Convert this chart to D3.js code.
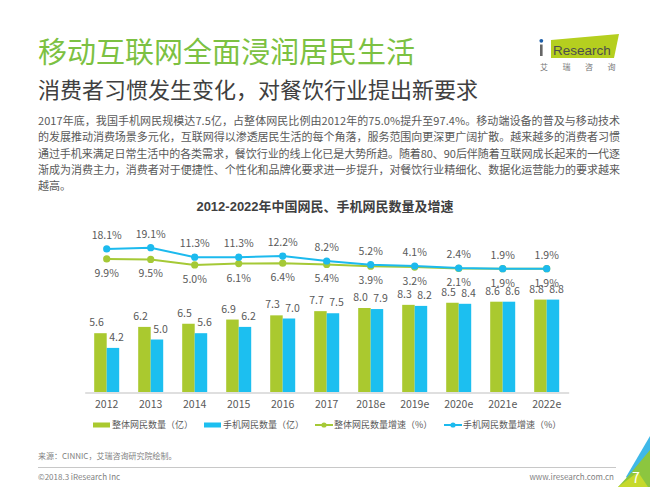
<!DOCTYPE html>
<html lang="zh-CN">

<head>
    <meta charset="UTF-8">
    <title> 2012-2022年中国网民、手机网民数量及增速 </title>
    <script src="https://cdn.jsdelivr.net/npm/d3@7"></script>
</head>

<style>

html, body {
  margin: 0;
  padding: 0;
  background-color: white;
}

svg {
  display: block;
  font-family: 'Noto Sans CJK SC', 'Noto Sans', sans-serif;
}

.title {
  font-size: 29px;
  fill: #7cc142;
}

.subtitle {
  font-size: 22px;
  fill: #404040;
}

.body-text {
  font-size: 11px;
  fill: #595959;
}

.chart-title {
  font-family: 'Liberation Sans', 'Noto Sans CJK SC', sans-serif;
  font-size: 13px;
  font-weight: 700;
  fill: #404040;
  text-anchor: middle;
}

.x-axis path {
  stroke: #bfbfbf;
  stroke-width: 1px;
}

.x-axis text {
  font-family: 'Noto Sans CJK SC', sans-serif;
  font-size: 10.5px;
  fill: #595959;
}

.value-label, .rate-label {
  font-size: 10.5px;
  fill: #595959;
  text-anchor: middle;
}

.legend text {
  font-size: 9px;
  fill: #595959;
}

.footer {
  font-size: 8px;
  fill: #7f7f7f;
}

</style>

<body>

<div id="chart"></div>

<script>

// --------------------------------------
// Data
// --------------------------------------

const years = ["2012", "2013", "2014", "2015", "2016", "2017", "2018e", "2019e", "2020e", "2021e", "2022e"];
const totalUsers = [5.6, 6.2, 6.5, 6.9, 7.3, 7.7, 8.0, 8.3, 8.5, 8.6, 8.8];
const mobileUsers = [4.2, 5.0, 5.6, 6.2, 7.0, 7.5, 7.9, 8.2, 8.4, 8.6, 8.8];
const totalGrowth = [9.9, 9.5, 5.0, 6.1, 6.4, 5.4, 3.9, 3.2, 2.1, 1.9, 1.9];
const mobileGrowth = [18.1, 19.1, 11.3, 11.3, 12.2, 8.2, 5.2, 4.1, 2.4, 1.9, 1.9];

const seriesNames = ["整体网民数量（亿）", "手机网民数量（亿）", "整体网民数量增速（%）", "手机网民数量增速（%）"];

const paragraph = [
  "2017年底，我国手机网民规模达7.5亿，占整体网民比例由2012年的75.0%提升至97.4%。移动端设备的普及与移动技术",
  "的发展推动消费场景多元化，互联网得以渗透居民生活的每个角落，服务范围向更深更广阔扩散。越来越多的消费者习惯",
  "通过手机来满足日常生活中的各类需求，餐饮行业的线上化已是大势所趋。随着80、90后伴随着互联网成长起来的一代逐",
  "渐成为消费主力，消费者对于便捷性、个性化和品牌化要求进一步提升，对餐饮行业精细化、数据化运营能力的要求越来",
  "越高。"
];

const green = "#aac92f";
const blue = "#1cbff0";
const lineGreen = "#a5c936";
const lineBlue = "#1cbaee";

// --------------------------------------
// Size
// --------------------------------------

let totalWidth = 650;
let totalHeight = 487;

let svg = d3.select("#chart")
  .append("svg")
  .attr("width", totalWidth)
  .attr("height", totalHeight);

// --------------------------------------
// Header
// --------------------------------------

svg.append("text")
  .attr("class", "title")
  .attr("x", 38)
  .attr("y", 63)
  .text("移动互联网全面浸润居民生活");

svg.append("text")
  .attr("class", "subtitle")
  .attr("x", 38)
  .attr("y", 98)
  .text("消费者习惯发生变化，对餐饮行业提出新要求");

svg.selectAll(".body-text")
  .data(paragraph)
  .join("text")
  .attr("class", "body-text")
  .attr("x", 38)
  .attr("y", (d, i) => 125 + i * 16.3)
  .attr("textLength", (d, i) => i < paragraph.length - 1 ? 582 : null)
  .attr("lengthAdjust", "spacing")
  .text(d => d);

// logo
let logo = svg.append("g").attr("class", "logo");

logo.append("polygon")
  .attr("points", "551,40 619,34 614,58 551,58")
  .attr("fill", "#b5cf1f");

logo.append("rect")
  .attr("x", 540)
  .attr("y", 44.5)
  .attr("width", 2.6)
  .attr("height", 11.5)
  .attr("fill", "#666");

logo.append("circle")
  .attr("cx", 541.3)
  .attr("cy", 40.8)
  .attr("r", 1.9)
  .attr("fill", "#1d5ea8");

logo.append("text")
  .attr("x", 553)
  .attr("y", 55)
  .attr("font-family", "'Liberation Sans', Arial, sans-serif")
  .attr("font-size", "13.5px")
  .attr("fill", "#4d4d4d")
  .text("Research");

logo.selectAll(".logo-cn")
  .data(["艾", "瑞", "咨", "询"])
  .join("text")
  .attr("class", "logo-cn")
  .attr("x", (d, i) => 544 + i * 22.5)
  .attr("y", 70)
  .attr("text-anchor", "middle")
  .attr("font-size", "8px")
  .attr("fill", "#777")
  .text(d => d);

// --------------------------------------
// Chart title
// --------------------------------------

svg.append("text")
  .attr("class", "chart-title")
  .attr("x", 325)
  .attr("y", 211)
  .text("2012-2022年中国网民、手机网民数量及增速");

// --------------------------------------
// Scales
// --------------------------------------

let x = d3.scaleBand()
  .domain(years)
  .range([84.7, 568.7])
  .padding(0);

let xSub = d3.scaleBand()
  .domain(["total", "mobile"])
  .range([0, x.bandwidth()])
  .paddingInner(0)
  .paddingOuter(0.76);

let yBar = d3.scaleLinear()
  .domain([0, 10])
  .range([392, 287]);

let yRate = d3.scaleLinear()
  .domain([0, 20])
  .range([271, 246.6]);

// --------------------------------------
// Bars
// --------------------------------------

let barData = [];
years.forEach((yr, i) => {
  barData.push({year: yr, key: "total", value: totalUsers[i], color: green, shift: -4});
  barData.push({year: yr, key: "mobile", value: mobileUsers[i], color: blue, shift: 3.5});
});

svg.selectAll(".bar")
  .data(barData)
  .join("rect")
  .attr("class", "bar")
  .attr("x", d => x(d.year) + xSub(d.key))
  .attr("y", d => yBar(d.value))
  .attr("width", xSub.bandwidth())
  .attr("height", d => yBar(0) - yBar(d.value))
  .attr("fill", d => d.color);

svg.selectAll(".value-label")
  .data(barData)
  .join("text")
  .attr("class", "value-label")
  .attr("x", d => x(d.year) + xSub(d.key) + xSub.bandwidth() / 2 + d.shift)
  .attr("y", d => yBar(d.value) - 7)
  .text(d => d3.format(".1f")(d.value));

// --------------------------------------
// Axis
// --------------------------------------

svg.append("g")
  .attr("class", "x-axis")
  .attr("transform", "translate(0,392.5)")
  .call(d3.axisBottom(x).tickSize(0).tickSizeOuter(0).tickPadding(8))
  .call(g => g.selectAll(".tick line").remove());

// --------------------------------------
// Growth lines
// --------------------------------------

let rateLine = d3.line()
  .x((d, i) => x(years[i]) + x.bandwidth() / 2)
  .y(d => yRate(d));

let rates = [
  {values: totalGrowth, color: lineGreen, dy: 18},
  {values: mobileGrowth, color: lineBlue, dy: -10}
];

rates.forEach(s => {
  svg.append("path")
    .datum(s.values)
    .attr("fill", "none")
    .attr("stroke", s.color)
    .attr("stroke-width", 2)
    .attr("d", rateLine);

  svg.selectAll(null)
    .data(s.values)
    .join("circle")
    .attr("cx", (d, i) => x(years[i]) + x.bandwidth() / 2)
    .attr("cy", d => yRate(d))
    .attr("r", 3.6)
    .attr("fill", s.color);

  svg.selectAll(null)
    .data(s.values)
    .join("text")
    .attr("class", "rate-label")
    .attr("x", (d, i) => x(years[i]) + x.bandwidth() / 2)
    .attr("y", d => yRate(d) + s.dy)
    .text(d => d.toFixed(1) + "%");
});

// --------------------------------------
// Legend
// --------------------------------------

let legendItems = [
  {label: seriesNames[0], type: "rect", color: green, x: 93},
  {label: seriesNames[1], type: "rect", color: blue, x: 204},
  {label: seriesNames[2], type: "line", color: lineGreen, x: 315},
  {label: seriesNames[3], type: "line", color: lineBlue, x: 444}
];

let legend = svg.append("g")
  .attr("class", "legend")
  .attr("transform", "translate(0,425)");

let item = legend.selectAll(".item")
  .data(legendItems)
  .join("g")
  .attr("class", "item")
  .attr("transform", d => `translate(${d.x},0)`);

item.filter(d => d.type === "rect")
  .append("rect")
  .attr("x", 0)
  .attr("y", -2.5)
  .attr("width", 17)
  .attr("height", 5)
  .attr("fill", d => d.color);

item.filter(d => d.type === "line")
  .append("line")
  .attr("x1", 0)
  .attr("x2", 18)
  .attr("stroke", d => d.color)
  .attr("stroke-width", 2);

item.filter(d => d.type === "line")
  .append("circle")
  .attr("cx", 9)
  .attr("r", 2.6)
  .attr("fill", d => d.color);

item.append("text")
  .attr("x", 19)
  .attr("y", 3.2)
  .text(d => d.label);

// --------------------------------------
// Footer
// --------------------------------------

svg.append("text")
  .attr("class", "footer")
  .attr("x", 38)
  .attr("y", 459)
  .text("来源：CINNIC，艾瑞咨询研究院绘制。");

svg.append("line")
  .attr("x1", 38)
  .attr("x2", 616)
  .attr("y1", 467.5)
  .attr("y2", 467.5)
  .attr("stroke", "#c8c8c8")
  .attr("stroke-width", 1);

svg.append("text")
  .attr("class", "footer")
  .attr("x", 38)
  .attr("y", 480)
  .text("©2018.3 iResearch Inc");

svg.append("text")
  .attr("class", "footer")
  .attr("x", 614)
  .attr("y", 480)
  .attr("text-anchor", "end")
  .text("www.iresearch.com.cn");

// corner mark
svg.append("polygon")
  .attr("points", "650,436 650,458 629,480 626,477")
  .attr("fill", "#3fb8e8");

svg.append("polygon")
  .attr("points", "650,450 650,487 618,487 630,474")
  .attr("fill", "#8cc63f");

svg.append("polygon")
  .attr("points", "638,472 648,487 618,487")
  .attr("fill", "#c6d92c");

svg.append("text")
  .attr("x", 636)
  .attr("y", 483)
  .attr("text-anchor", "middle")
  .attr("font-size", "14px")
  .attr("fill", "white")
  .text("7");

</script>
</body>
</html>
